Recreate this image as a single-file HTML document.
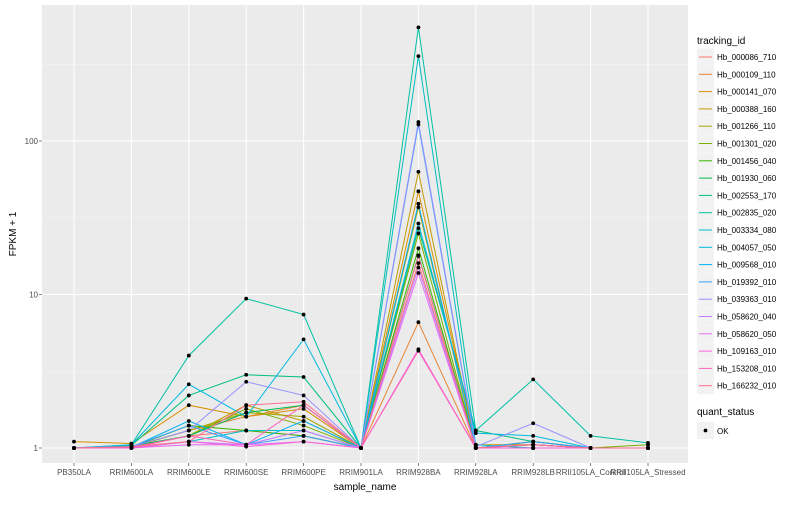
<!DOCTYPE html>
<html><head><meta charset="utf-8"><style>
body{margin:0;background:#fff;font-family:"Liberation Sans",sans-serif;}
svg text{font-family:"Liberation Sans",sans-serif;}
</style></head><body>
<svg id="chart" width="800" height="500">
<rect x="0" y="0" width="800" height="500" fill="#fff"/>
<g id="panel"></g>
<g id="axes"></g>
<g id="legend"></g>
</svg>
<script>
const categories=["PB350LA","RRIM600LA","RRIM600LE","RRIM600SE","RRIM600PE","RRIM901LA","RRIM928BA","RRIM928LA","RRIM928LB","RRII105LA_Control","RRII105LA_Stressed"];
const seriesNames=["Hb_000086_710","Hb_000109_110","Hb_000141_070","Hb_000388_160","Hb_001266_110","Hb_001301_020","Hb_001456_040","Hb_001930_060","Hb_002553_170","Hb_002835_020","Hb_003334_080","Hb_004057_050","Hb_009568_010","Hb_019392_010","Hb_039363_010","Hb_058620_040","Hb_058620_050","Hb_109163_010","Hb_153208_010","Hb_166232_010"];
const seriesColors=["#F8766D","#EA8331","#D89000","#C09B00","#A3A500","#7CAE00","#39B600","#00BB4E","#00BF7D","#00C1A3","#00BFC4","#00BAE0","#00B0F6","#35A2FF","#9590FF","#C77CFF","#E76BF3","#FA62DB","#FF62BC","#FF6C91"];
const s01=[1,1,1.2,1.3,1.2,1,16,1,1.05,1,1];
const s02=[1,1.02,1.3,1.6,1.9,1,6.6,1,1.1,1,1];
const s03=[1.1,1.07,1.9,1.6,1.8,1,47,1.05,1.05,1,1];
const s04=[1,1.02,1.2,1.9,1.5,1,63,1,1,1,1];
const s05=[1,1.01,1.3,1.7,1.6,1,37,1,1,1,1];
const s06=[1,1.02,1.2,1.8,1.4,1,25,1,1.1,1,1.05];
const s07=[1,1.01,1.4,1.3,1.2,1,20,1,1,1,1];
const s08=[1,1.03,1.2,1.7,1.9,1,18,1,1,1,1];
const s09=[1,1.04,2.2,3.0,2.9,1,27,1.3,1.1,1,1];
const s10=[1,1.05,4.0,9.4,7.4,1,550,1.3,2.8,1.2,1.08];
const s11=[1,1,1.1,1.3,1.3,1,357,1.05,1,1,1];
const s12=[1,1.05,2.6,1.6,5.1,1,29,1.25,1.2,1,1];
const s13=[1,1.01,1.5,1.05,1.5,1,39,1,1.05,1,1];
const s14=[1,1.02,1.4,1.05,1.2,1,128,1,1.1,1,1];
const s15=[1,1.02,1.3,2.7,2.2,1,133,1.02,1.45,1,1];
const s16=[1,1,1.1,1.05,1.3,1,15,1,1,1,1];
const s17=[1,1,1.05,1.05,1.1,1,13.8,1,1,1,1];
const s18=[1,1,1.1,1.02,1.1,1,4.4,1,1,1,1];
const s19=[1,1.01,1.2,1.05,1.9,1,4.3,1,1.05,1,1];
const s20=[1,1.02,1.1,1.9,2.0,1,17.8,1,1.05,1,1];
const seriesValues=[s01,s02,s03,s04,s05,s06,s07,s08,s09,s10,s11,s12,s13,s14,s15,s16,s17,s18,s19,s20];
const yTicks=[1,10,100];
const yTickLabels=["1","10","100"];

const NS="http://www.w3.org/2000/svg";
const PL=42,PR=688,PT=5,PB=463;
function xs(i){return 74+i*(648-74)/(categories.length-1);}
function ys(v){return 448-153.5*Math.log10(v);}
function mk(tag,attrs,parent){const e=document.createElementNS(NS,tag);for(const k in attrs)e.setAttribute(k,attrs[k]);parent.appendChild(e);return e;}
const panel=document.getElementById('panel'),axes=document.getElementById('axes'),legend=document.getElementById('legend');
const bg=mk('rect',{x:PL,y:PT,width:PR-PL,height:PB-PT,fill:'#EBEBEB'},panel);


for(let i=0;i<yTicks.length;i++){const yy=ys(yTicks[i]*Math.sqrt(10));if(yy>PT){const l=mk('line',{x1:PL,x2:PR,y1:yy,y2:yy,stroke:'#F5F5F5','stroke-width':0.6},panel);

}}
for(let i=0;i<yTicks.length;i++){const yy=ys(yTicks[i]);const l=mk('line',{x1:PL,x2:PR,y1:yy,y2:yy,stroke:'#fff','stroke-width':1.1},panel);


const t=mk('text',{x:38,y:yy+3,'text-anchor':'end','font-size':8,fill:'#4D4D4D'},axes);t.textContent=yTickLabels[i];


mk('line',{x1:39,x2:42,y1:yy,y2:yy,stroke:'#333','stroke-width':0.6},axes);}
for(let i=0;i<categories.length;i++){const xx=xs(i);const l=mk('line',{x1:xx,x2:xx,y1:PT,y2:PB,stroke:'#fff','stroke-width':1.1},panel);


mk('line',{x1:xx,x2:xx,y1:PB,y2:PB+3,stroke:'#333','stroke-width':0.6},axes);
const t=mk('text',{x:xx,y:475,'text-anchor':'middle','font-size':8,fill:'#4D4D4D'},axes);t.textContent=categories[i];

}
for(let s=0;s<seriesValues.length;s++){const pts=seriesValues[s].map((v,i)=>xs(i)+','+ys(v)).join(' ');
const pl=mk('polyline',{points:pts,fill:'none',stroke:seriesColors[s],'stroke-width':1},panel);

}
for(let s=0;s<seriesValues.length;s++){for(let i=0;i<categories.length;i++){const c=mk('circle',{cx:xs(i),cy:ys(seriesValues[s][i]),r:1.9,fill:'#000'},panel);

}}
const xt=mk('text',{x:365,y:490,'text-anchor':'middle','font-size':10,fill:'#000'},axes);xt.textContent='sample_name';


const yt=mk('text',{x:0,y:0,'text-anchor':'middle','font-size':10,fill:'#000',transform:'translate(16,234) rotate(-90)'},axes);yt.textContent='FPKM + 1';


const lt=mk('text',{x:697,y:44,'font-size':10,fill:'#000'},legend);lt.textContent='tracking_id';


for(let s=0;s<seriesNames.length;s++){const cy=57+s*17.3;
const g=mk('g',{},legend);


mk('rect',{x:697,y:cy-8.5,width:17,height:17,fill:'#F2F2F2'},g);
mk('line',{x1:699,x2:712,y1:cy,y2:cy,stroke:seriesColors[s],'stroke-width':1},g);
const t=mk('text',{x:717,y:cy+3,'font-size':8,fill:'#000'},g);t.textContent=seriesNames[s];}
const qt=mk('text',{x:697,y:415,'font-size':10,fill:'#000'},legend);qt.textContent='quant_status';


const qg=mk('g',{},legend);


mk('rect',{x:697,y:422,width:17,height:17,fill:'#F2F2F2'},qg);
mk('circle',{cx:705.5,cy:430.5,r:1.9,fill:'#000'},qg);
const ok=mk('text',{x:717,y:434,'font-size':8,fill:'#000'},qg);ok.textContent='OK';
</script>
</body></html>
